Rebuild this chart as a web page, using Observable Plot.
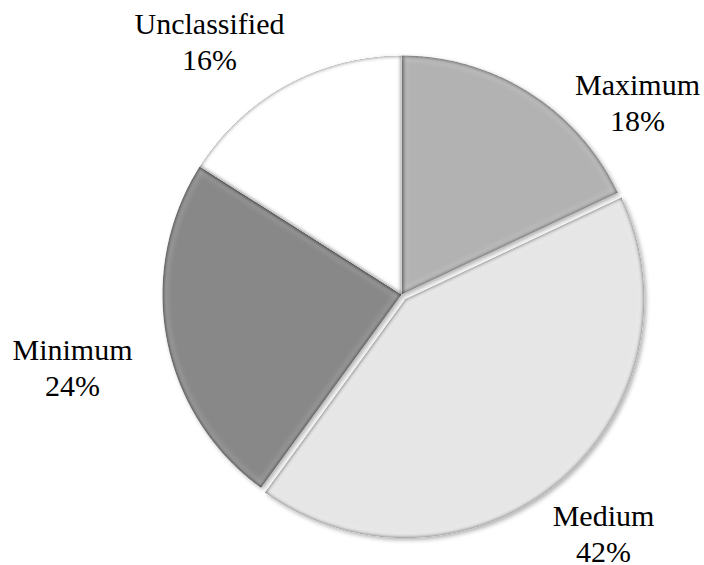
<!DOCTYPE html>
<html>
<head>
<meta charset="utf-8">
<script src="https://cdn.jsdelivr.net/npm/d3@7"></script>
<script src="https://cdn.jsdelivr.net/npm/@observablehq/plot@0.6"></script>
<style>
  html, body { margin: 0; padding: 0; background: #fff; }
  g.lbl text, g.lbl { font-family: "Liberation Serif", "Times New Roman", Times, serif !important; }
</style>
</head>
<body>
<div id="chart"></div>
<script>
// ---- data ----
const categories = ["Maximum", "Medium", "Minimum", "Unclassified"];
const shares = [18, 42, 24, 16];
const percentLabels = ["18%", "42%", "24%", "16%"];
const sliceColors = ["#b2b2b2", "#e6e6e6", "#888888", "#ffffff"];

// ---- layout (pixels) ----
const W = 704, H = 565, CX = 401, CY = 294, R = 239;
const explodePx = [0, 6, 0, 0];
const labelPx = [[637, 130], [603, 561], [72, 395], [209, 69]];

// build slice outlines from the pie layout (unit radius)
const arcs = d3.pie().sort(null).value(d => d)(shares);
const pts = [];
arcs.forEach((a, i) => {
  const mid = (a.startAngle + a.endAngle) / 2;
  const off = explodePx[i] / R;
  const ox = off * Math.sin(mid), oy = off * Math.cos(mid);
  const cat = categories[i];
  pts.push({cat, x: ox, y: oy});
  const n = 120;
  for (let k = 0; k <= n; k++) {
    const t = a.startAngle + (a.endAngle - a.startAngle) * k / n;
    pts.push({cat, x: ox + Math.sin(t), y: oy + Math.cos(t)});
  }
  pts.push({cat, x: ox, y: oy});
});

const labels = categories.map((c, i) => ({
  text: c + "\n" + percentLabels[i],
  x: (labelPx[i][0] - CX) / R,
  y: (CY - labelPx[i][1]) / R
}));

const plot = Plot.plot({
  width: W,
  height: H,
  margin: 0,
  x: {domain: [-CX / R, (W - CX) / R], range: [0, W], axis: null},
  y: {domain: [-(H - CY) / R, CY / R], range: [H, 0], axis: null},
  color: {domain: categories, range: sliceColors},
  style: {background: "#fff"},
  marks: [
    Plot.line(pts, {x: "x", y: "y", z: "cat", fill: "cat", stroke: "none", curve: "linear", className: "slices"}),
    Plot.text(labels, {
      x: "x", y: "y", text: "text",
      lineAnchor: "bottom", textAnchor: "middle",
      fontSize: 30, lineHeight: 1.17,
      fontFamily: "Liberation Serif",
      fill: "#000", className: "lbl"
    })
  ]
});

// soft bevel / shadow effect
const svg = d3.select(plot);
const defs = svg.insert("defs", ":first-child");
const f = defs.append("filter").attr("id", "bevel")
  .attr("x", "-10%").attr("y", "-10%").attr("width", "120%").attr("height", "120%")
  .attr("color-interpolation-filters", "sRGB");
f.append("feGaussianBlur").attr("in", "SourceAlpha").attr("stdDeviation", 2.2).attr("result", "blur");
f.append("feComposite").attr("in", "SourceAlpha").attr("in2", "blur").attr("operator", "arithmetic")
  .attr("k2", 1).attr("k3", -1).attr("result", "rim");
f.append("feFlood").attr("flood-color", "#000").attr("flood-opacity", 0.6).attr("result", "dk");
f.append("feComposite").attr("in", "dk").attr("in2", "rim").attr("operator", "in").attr("result", "darkRim");
f.append("feGaussianBlur").attr("in", "SourceAlpha").attr("stdDeviation", 5).attr("result", "blur2");
f.append("feComposite").attr("in", "blur").attr("in2", "blur2").attr("operator", "arithmetic")
  .attr("k2", 1).attr("k3", -1).attr("result", "rim2");
f.append("feFlood").attr("flood-color", "#fff").attr("flood-opacity", 0.7).attr("result", "lt");
f.append("feComposite").attr("in", "lt").attr("in2", "rim2").attr("operator", "in").attr("result", "lightRim");
f.append("feOffset").attr("in", "blur").attr("dx", 1.5).attr("dy", 1.5).attr("result", "sh");
f.append("feFlood").attr("flood-color", "#000").attr("flood-opacity", 0.3).attr("result", "shc");
f.append("feComposite").attr("in", "shc").attr("in2", "sh").attr("operator", "in").attr("result", "shadow");
const m = f.append("feMerge");
m.append("feMergeNode").attr("in", "shadow");
m.append("feMergeNode").attr("in", "SourceGraphic");
m.append("feMergeNode").attr("in", "lightRim");
m.append("feMergeNode").attr("in", "darkRim");
svg.selectAll("g.slices path").attr("filter", "url(#bevel)");

document.getElementById("chart").appendChild(plot);
</script>
</body>
</html>
